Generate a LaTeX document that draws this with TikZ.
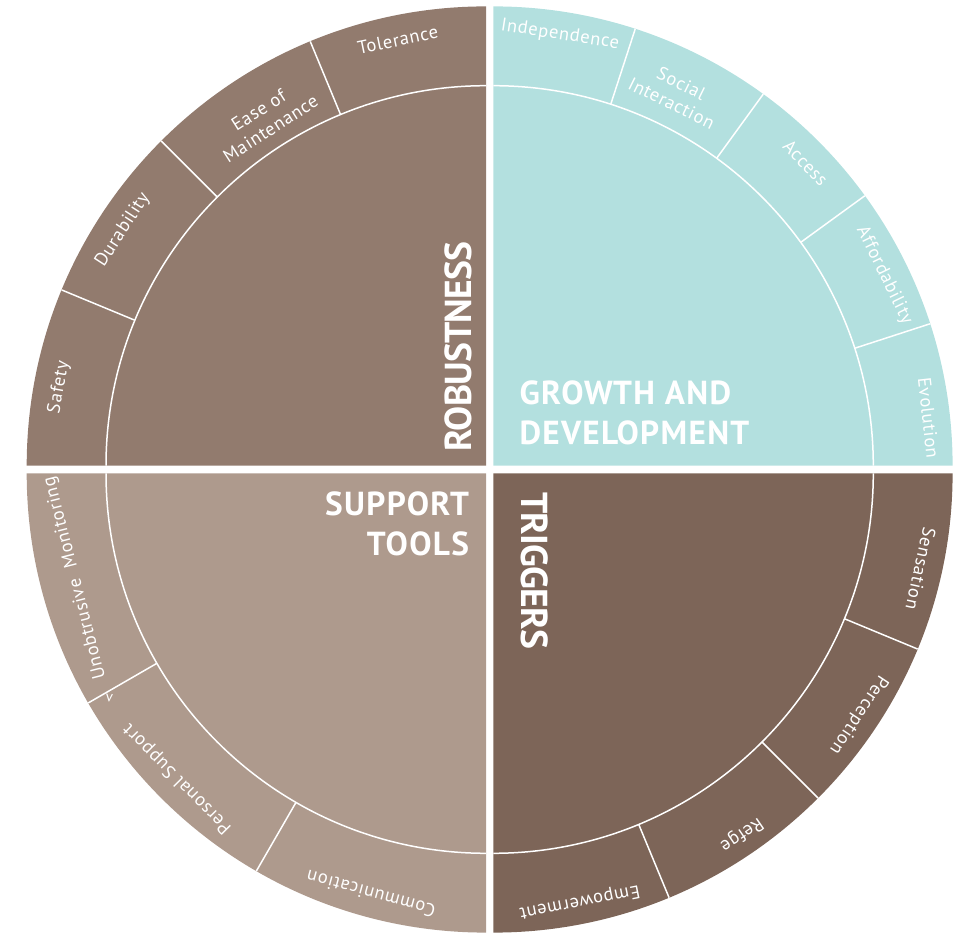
\documentclass[tikz,border=0pt]{standalone}
\usepackage{fontspec}
\setmainfont{PT Sans}
\definecolor{robc}{HTML}{927B6E}
\definecolor{grwc}{HTML}{B3E0DF}
\definecolor{supc}{HTML}{AE9A8D}
\definecolor{trgc}{HTML}{7D6558}
\begin{document}
\begin{tikzpicture}[x=1pt,y=1pt,
  lbl/.style={text=white,font=\fontsize{18.5}{22}\selectfont\addfontfeatures{LetterSpace=4},inner sep=0pt,align=center},
  ttl/.style={text=white,font=\fontsize{33.3}{40}\selectfont\bfseries\addfontfeatures{LetterSpace=4},inner sep=0pt},
  vttl/.style={text=white,font=\fontsize{37.5}{40}\selectfont\bfseries\addfontfeatures{LetterSpace=-2},inner sep=0pt},
  sepline/.style={white,line width=1.5pt}]
\useasboundingbox (0,0) rectangle (959,935);
\coordinate (tl) at (486,469.3);
\coordinate (tr) at (493.3,469.3);
\coordinate (bl) at (486,461.7);
\coordinate (br) at (493.3,461.7);
% quadrants
\fill[robc,shift={(tl)}] (0,0) -- (90:459.3) arc[start angle=90,end angle=180,radius=459.3] -- cycle;
\fill[grwc,shift={(tr)}] (0,0) -- (0:459.3) arc[start angle=0,end angle=90,radius=459.3] -- cycle;
\fill[supc,shift={(bl)}] (0,0) -- (180:459.3) arc[start angle=180,end angle=270,radius=459.3] -- cycle;
\fill[trgc,shift={(br)}] (0,0) -- (270:459.3) arc[start angle=270,end angle=360,radius=459.3] -- cycle;
% inner arcs
\draw[sepline,shift={(tl)}] (90:380) arc[start angle=90,end angle=180,radius=380];
\draw[sepline,shift={(tr)}] (0:380) arc[start angle=0,end angle=90,radius=380];
\draw[sepline,shift={(bl)}] (180:380) arc[start angle=180,end angle=270,radius=380];
\draw[sepline,shift={(br)}] (270:380) arc[start angle=270,end angle=360,radius=380];
% dividers
\foreach \a in {112.5,135,157.5} \draw[sepline,shift={(tl)}] (\a:380) -- (\a:459.3);
\foreach \a in {18,36,54,72} \draw[sepline,shift={(tr)}] (\a:380) -- (\a:459.3);
\foreach \a in {-22.5,-45,-67.5} \draw[sepline,shift={(br)}] (\a:380) -- (\a:459.3);
\foreach \a in {210,240} \draw[sepline,shift={(bl)}] (\a:380) -- (\a:459.3);
% labels TL
\node[lbl,rotate=11.7] (tol) at ([shift={(101.7:435)}]tl) {Tolerance};
\node[lbl,rotate=32.6] (ease) at ([shift={(122.6:411)}]tl) {Ease of\\Maintenance};
\node[lbl,rotate=57] (dur) at ([shift={(147:433)}]tl) {Durability};
\node[lbl,rotate=79.6] (saf) at ([shift={(169.6:434)}]tl) {Safety};
% labels TR
\node[lbl,rotate=-8.8] (ind) at ([shift={(81.2:436)}]tr) {Independence};
\node[lbl,rotate=-26.2] (soc) at ([shift={(63.8:415)}]tr) {Social\\Interaction};
\node[lbl,rotate=-45.9] (acc) at ([shift={(44.1:435)}]tr) {Access};
\node[lbl,rotate=-64] (aff) at ([shift={(26:435)}]tr) {Affordability};
\node[lbl,rotate=-83.7] (evo) at ([shift={(6.3:438)}]tr) {Evolution};
% labels BR
\node[lbl,rotate=-102.6] (sen) at ([shift={(-12.6:438)}]br) {Sensation};
\node[lbl,rotate=-123.5] (per) at ([shift={(-33.5:438)}]br) {Perception};
\node[lbl,rotate=-145.5] (ref) at ([shift={(-55.5:438)}]br) {Refge};
\node[lbl,rotate=-168.6] (emp) at ([shift={(-78.6:437)}]br) {Empowerment};
% labels BL
\node[lbl,rotate=104.3] (uno) at ([shift={(194.3:424)}]bl) {Unobtrusive~~Monitoring};
\node[lbl,rotate=134.7] (pers) at ([shift={(224.7:434)}]bl) {Personal Support};
\node[lbl,rotate=164.7] (com) at ([shift={(254.7:436)}]bl) {Communication};
\node[text=white,font=\fontsize{15}{16}\selectfont,inner sep=0pt,rotate=-5] (mark) at ([shift={(210.85:438.8)}]bl) {v};
% titles
\node[vttl,rotate=90] (rob) at (458.3,588.3) {ROBUSTNESS};
\node[vttl,rotate=-90] (trg) at (534.5,364.2) {TRIGGERS};
\node[ttl,anchor=base west] (gro1) at (519.3,530) {GROWTH AND};
\node[ttl,anchor=base west] (gro2) at (519.3,490) {DEVELOPMENT};
\node[ttl,anchor=base east] (sup1) at (469.3,419) {SUPPORT};
\node[ttl,anchor=base east] (sup2) at (469.3,379) {TOOLS};
\end{tikzpicture}
\end{document}
